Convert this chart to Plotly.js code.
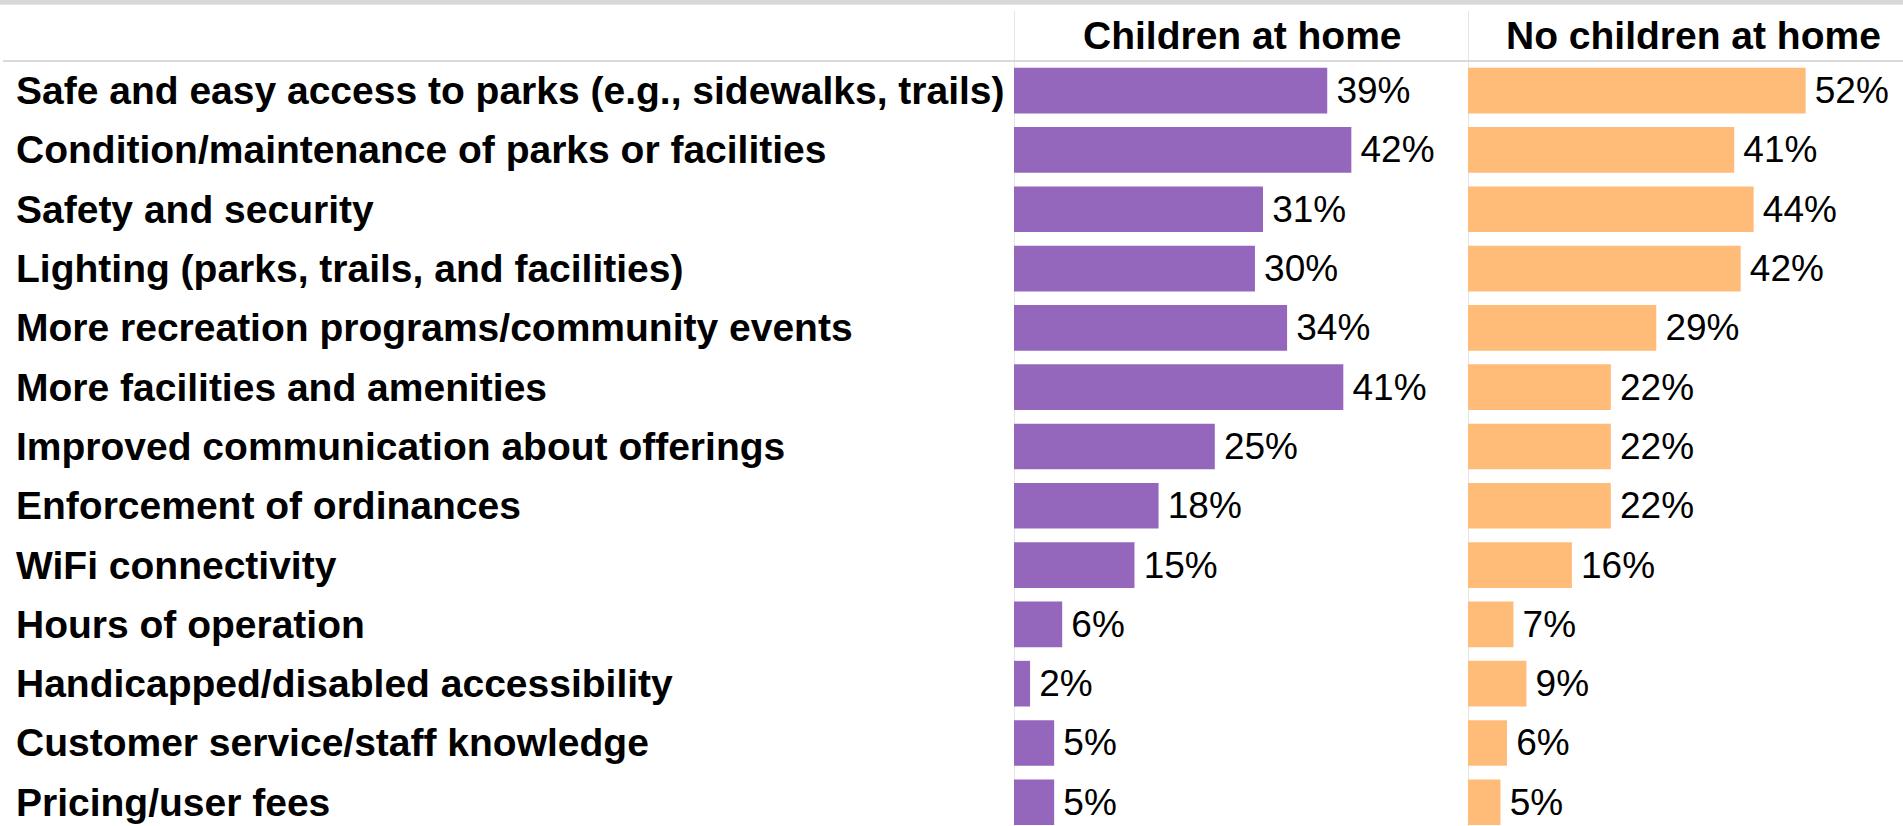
<!DOCTYPE html>
<html>
<head>
<meta charset="utf-8">
<script src="https://cdn.plot.ly/plotly-3.0.1.min.js"></script>
<style>
  html, body { margin: 0; padding: 0; background: #ffffff; overflow: hidden; }
  #chart { width: 1903px; height: 826px; }
</style>
</head>
<body>
<div id="chart"></div>
<script>
// ---- Data ----
const categories = [
  "Safe and easy access to parks (e.g., sidewalks, trails)",
  "Condition/maintenance of parks or facilities",
  "Safety and security",
  "Lighting (parks, trails, and facilities)",
  "More recreation programs/community events",
  "More facilities and amenities",
  "Improved communication about offerings",
  "Enforcement of ordinances",
  "WiFi connectivity",
  "Hours of operation",
  "Handicapped/disabled accessibility",
  "Customer service/staff knowledge",
  "Pricing/user fees"
];
const childrenAtHome = [39, 42, 31, 30, 34, 41, 25, 18, 15, 6, 2, 5, 5];
const noChildrenAtHome = [52, 41, 44, 42, 29, 22, 22, 22, 16, 7, 9, 6, 5];
const seriesNames = ["Children at home", "No children at home"];

// ---- Layout constants ----
const W = 1903, H = 826, TOP = 61;
const plotH = H - TOP;
const fontFam = "Liberation Sans, Arial, Helvetica, sans-serif";
const purple = "#9467bd";
const orange = "#ffbb78";
const lineCol = "#d9d9d9";

const dom1 = [1014 / W, 1467 / W];
const dom2 = [1468 / W, 1];
const py = px => 1 + (TOP - px) / plotH; // pixel y -> paper y

const valueText = {
  family: fontFam, size: 37, color: "#000000"
};

const traces = [
  {
    type: "bar", orientation: "h",
    y: categories, x: childrenAtHome,
    name: seriesNames[0],
    xaxis: "x", yaxis: "y",
    marker: { color: purple },
    texttemplate: "\u2006%{x}%",
    textposition: "outside",
    textfont: valueText,
    cliponaxis: false,
    hoverinfo: "skip"
  },
  {
    type: "bar", orientation: "h",
    y: categories, x: noChildrenAtHome,
    name: seriesNames[1],
    xaxis: "x2", yaxis: "y",
    marker: { color: orange },
    texttemplate: "\u2006%{x}%",
    textposition: "outside",
    textfont: valueText,
    cliponaxis: false,
    hoverinfo: "skip"
  }
];

const annotations = [];
categories.forEach(c => {
  annotations.push({
    xref: "paper", yref: "y",
    x: 0, y: c,
    xanchor: "left", yanchor: "middle",
    xshift: 14,
    text: c,
    showarrow: false,
    font: { family: fontFam, size: 39, color: "#000000", weight: "bold" }
  });
});
[["x domain", seriesNames[0], 2], ["x2 domain", seriesNames[1], 8]].forEach(([ref, t, sh]) => {
  annotations.push({
    xref: ref, yref: "paper",
    x: 0.5, y: py(35.5),
    xanchor: "center", yanchor: "middle",
    xshift: sh,
    text: t,
    showarrow: false,
    font: { family: fontFam, size: 39, color: "#000000", weight: "bold" }
  });
});

const shapes = [
  // top grey band
  { type: "rect", xref: "paper", yref: "paper", x0: 0, x1: 1, y0: py(4.7), y1: py(-5),
    fillcolor: lineCol, line: { width: 0 }, layer: "below" },
  // header separator line
  { type: "line", xref: "paper", yref: "paper", x0: 3 / W, x1: 1, y0: py(61), y1: py(61),
    line: { color: lineCol, width: 2 }, layer: "below" },
  // panel dividers
  { type: "line", xref: "x", yref: "paper", x0: 0, x1: 0, y0: 0, y1: py(10.7),
    line: { color: "#dddddd", width: 1.5 }, layer: "below" },
  { type: "line", xref: "x2", yref: "paper", x0: 0, x1: 0, y0: 0, y1: py(10.7),
    line: { color: "#dddddd", width: 1.5 }, layer: "below" }
];

const hiddenX = {
  showgrid: false, zeroline: false, showticklabels: false, ticks: "",
  showline: false, fixedrange: true
};

const layout = {
  width: W, height: H,
  margin: { l: 0, r: 0, t: TOP, b: 0, pad: 0 },
  paper_bgcolor: "#ffffff",
  plot_bgcolor: "rgba(0,0,0,0)",
  showlegend: false,
  bargap: 0.23,
  font: { family: fontFam, color: "#000000" },
  xaxis: Object.assign({ domain: dom1, range: [0, 56.4], anchor: "y" }, hiddenX),
  xaxis2: Object.assign({ domain: dom2, range: [0, 67], anchor: "y" }, hiddenX),
  yaxis: {
    type: "category",
    categoryorder: "array",
    categoryarray: categories,
    range: [12.4, -0.5],
    showgrid: false, zeroline: false, showticklabels: false, ticks: "",
    showline: false, fixedrange: true
  },
  annotations: annotations,
  shapes: shapes
};

Plotly.newPlot("chart", traces, layout, { displayModeBar: false, staticPlot: true });
</script>
</body>
</html>
